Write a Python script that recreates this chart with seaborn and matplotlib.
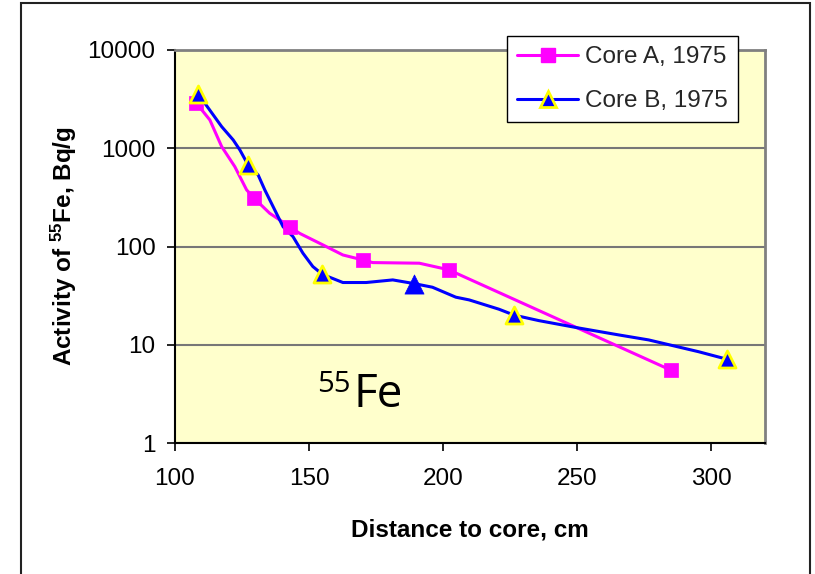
import matplotlib
matplotlib.use("Agg")
import matplotlib.pyplot as plt
import seaborn as sns
from matplotlib.lines import Line2D
from matplotlib.patches import Rectangle
from matplotlib.ticker import FixedLocator, FuncFormatter, NullLocator

# Marked measurements (distance in cm, activity in Bq/g)
core_a_x = [108, 129.5, 143, 170, 202, 285]
core_a_y = [2870, 310, 158, 73, 58, 5.5]
core_b_x = [108.7, 127.2, 155, 189, 226.5, 306]
core_b_y = [3550, 680, 52, 42, 20, 7.1]
core_b_plain = [3]  # index of the Core B point drawn without the yellow rim

# Full traced profiles for the connecting curves
core_a_curve_x = [108, 113, 117.4, 122.3, 126.7, 129.5, 135.3, 143, 146.5, 155.1,
                  162.6, 170, 173.7, 191.1, 202, 285]
core_a_curve_y = [2870, 1940, 1040, 650, 377, 310, 218, 158, 136, 104,
                  82, 73, 68.6, 67.6, 58, 5.5]
core_b_curve_x = [108.7, 117.4, 121.7, 124.2, 127.2, 131.0, 133.5, 140.3, 144.0,
                  147.7, 151.4, 155, 162.6, 171.3, 181.2, 189, 196.0, 204.7,
                  209.7, 220.8, 226.5, 235.7, 250.6, 265.4, 276.6, 295.2, 306]
core_b_curve_y = [3550, 1660, 1215, 960, 680, 535, 376, 159, 126,
                  85.5, 62.5, 52, 43, 43, 45.7, 42, 38.5, 30.5,
                  28.6, 23.0, 20, 17.6, 14.8, 12.6, 11.2, 8.5, 7.1]

series_labels = ["Core A, 1975", "Core B, 1975"]
y_ticks = [1, 10, 100, 1000, 10000]
x_ticks = [100, 150, 200, 250, 300]

sns.set_theme(style="white")
plt.rcParams["font.family"] = ["Liberation Sans", "DejaVu Sans"]
plt.rcParams["mathtext.fontset"] = "custom"
plt.rcParams["mathtext.rm"] = "Liberation Sans"
plt.rcParams["mathtext.bf"] = "Liberation Sans:bold"
plt.rcParams["mathtext.it"] = "Liberation Sans:italic"

MAGENTA = "#FF00FF"
BLUE = "#0000FF"
YELLOW = "#FFFF00"

fig = plt.figure(figsize=(8.15, 5.74), dpi=100)
ax = fig.add_axes([175 / 815, 1 - 443 / 574, 590 / 815, 393 / 574])
ax.set_facecolor("#FFFFCC")
ax.set_yscale("log")
ax.set_xlim(100, 320)
ax.set_ylim(1, 10000)

sns.lineplot(x=core_a_curve_x, y=core_a_curve_y, ax=ax, color=MAGENTA, lw=2.2,
             sort=False, estimator=None, legend=False, zorder=3)
sns.lineplot(x=core_b_curve_x, y=core_b_curve_y, ax=ax, color=BLUE, lw=2.2,
             sort=False, estimator=None, legend=False, zorder=3)

sns.scatterplot(x=core_a_x, y=core_a_y, ax=ax, marker="s", s=110, color=MAGENTA,
                edgecolor=MAGENTA, linewidth=0.5, legend=False, zorder=4)
rim_x = [v for i, v in enumerate(core_b_x) if i not in core_b_plain]
rim_y = [v for i, v in enumerate(core_b_y) if i not in core_b_plain]
plain_x = [core_b_x[i] for i in core_b_plain]
plain_y = [core_b_y[i] for i in core_b_plain]
sns.scatterplot(x=rim_x, y=rim_y, ax=ax, marker="^", s=150, color=BLUE,
                edgecolor=YELLOW, linewidth=2, legend=False, zorder=5)
sns.scatterplot(x=plain_x, y=plain_y, ax=ax, marker="^", s=190, color=BLUE,
                edgecolor=BLUE, linewidth=0.5, legend=False, zorder=5)

# Axes styling
ax.yaxis.set_major_locator(FixedLocator(y_ticks))
ax.yaxis.set_minor_locator(NullLocator())
ax.yaxis.set_major_formatter(FuncFormatter(lambda v, p: f"{v:g}"))
ax.xaxis.set_major_locator(FixedLocator(x_ticks))
ax.yaxis.grid(True, which="major", color="#777777", lw=1.5)
ax.xaxis.grid(False)
ax.set_axisbelow(True)
ax.tick_params(axis="both", direction="out", length=6, width=1.2, color="black",
               labelsize=17.5, labelcolor="black", bottom=True, left=True)
ax.tick_params(axis="x", pad=12)
ax.tick_params(axis="y", pad=8)
for side in ("left", "bottom"):
    ax.spines[side].set_color("black")
    ax.spines[side].set_linewidth(1.5)
for side in ("top", "right"):
    ax.spines[side].set_color("#808080")
    ax.spines[side].set_linewidth(2)

ax.set_xlabel("Distance to core, cm", fontsize=17.5, fontweight="bold", color="black")
ax.set_ylabel(r"Activity of $^{\mathbf{55}}$Fe, Bq/g", fontsize=17.5,
              fontweight="bold", color="black")
ax.xaxis.set_label_coords(0.5, -0.192)
ax.yaxis.set_label_coords(-0.162, 0.5)

# Isotope tag inside the plot
ax.text(0.302, 0.092, "Fe", transform=ax.transAxes, fontsize=33,
        fontfamily="Open Sans", color="black", ha="left", va="baseline")
ax.text(0.241, 0.131, "55", transform=ax.transAxes, fontsize=21,
        fontfamily="Open Sans", color="black", ha="left", va="baseline")

handles = [
    Line2D([], [], color=MAGENTA, lw=2.2, marker="s", markersize=10,
           markerfacecolor=MAGENTA, markeredgecolor=MAGENTA),
    Line2D([], [], color=BLUE, lw=2.2, marker="^", markersize=11,
           markerfacecolor=BLUE, markeredgecolor=YELLOW, markeredgewidth=2),
]
leg = ax.legend(handles, series_labels, loc="upper left",
                bbox_to_anchor=(507 / 815, 1 - 36 / 574),
                bbox_transform=fig.transFigure, fontsize=17.5, frameon=True,
                fancybox=False, framealpha=1, edgecolor="black",
                handlelength=2.5, handletextpad=0.3, labelspacing=0.9,
                borderpad=0.42, borderaxespad=0)
leg.get_frame().set_linewidth(1.0)
leg.set_zorder(10)

# Outer chart frame
fig.patches.append(Rectangle((21 / 815, -0.05), (810 - 21) / 815, 1.05 - 3 / 574,
                             transform=fig.transFigure, fill=False,
                             edgecolor="#222222", lw=1.5))

fig.savefig("out.png", dpi=100)
